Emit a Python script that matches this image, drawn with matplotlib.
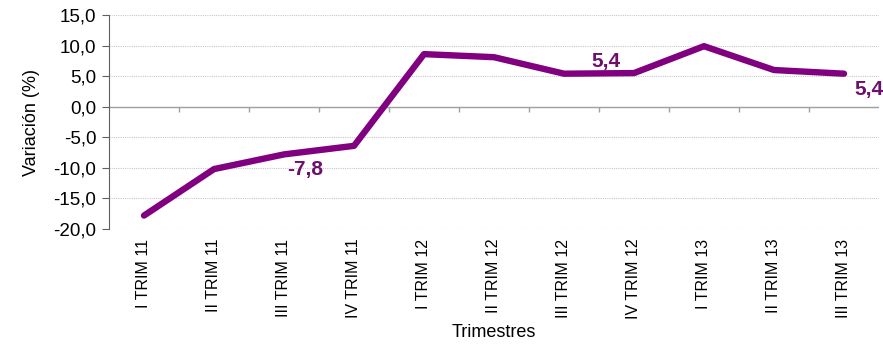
import numpy as np
import matplotlib
matplotlib.use('Agg')
import matplotlib.pyplot as plt

plt.rcParams['font.family'] = ['Liberation Sans', 'DejaVu Sans']

# data
trimestres = ['I TRIM 11', 'II TRIM 11', 'III TRIM 11', 'IV TRIM 11',
              'I TRIM 12', 'II TRIM 12', 'III TRIM 12', 'IV TRIM 12',
              'I TRIM 13', 'II TRIM 13', 'III TRIM 13']
variacion = [-17.8, -10.2, -7.8, -6.4, 8.6, 8.1, 5.4, 5.5, 9.9, 6.0, 5.4]
etiquetas = {2: '-7,8', 6: '5,4', 10: '5,4'}

yticks = np.arange(-20, 16, 5)

fig = plt.figure(figsize=(8.83, 3.45), dpi=100)
ax = fig.add_axes([109/883, 1-229/345, 770/883, 214/345])

x = np.arange(len(trimestres))
ax.plot(x, variacion, color='#800080', linewidth=4.6, solid_capstyle='round',
        solid_joinstyle='round', zorder=3)

ax.set_xlim(-0.5, len(trimestres) - 0.5)
ax.set_ylim(-20, 15)
ax.set_yticks(yticks)
ax.set_yticklabels(['{:.1f}'.format(v).replace('.', ',') for v in yticks], fontsize=13.5)
ax.yaxis.grid(True, linestyle=(0, (1, 1)), color='#c8c8c8', linewidth=0.8)
ax.set_axisbelow(True)

# eje en cero con marcas entre categorias
ax.axhline(0, color='#a0a0a0', linewidth=1.0, zorder=2)
ax.vlines(x[:-1] + 0.5, -0.8, 0, color='#a0a0a0', linewidth=1.0, zorder=2)

ax.set_xticks(x)
ax.set_xticklabels(trimestres, rotation=90, fontsize=11.5)
ax.tick_params(axis='x', length=0, pad=7)
ax.tick_params(axis='y', length=5, color='#606060', pad=4)

for s in ['top', 'right', 'bottom']:
    ax.spines[s].set_visible(False)
ax.spines['left'].set_color('#606060')

ax.set_ylabel('Variación (%)', fontsize=13, labelpad=10)
ax.set_xlabel('Trimestres', fontsize=13, labelpad=3)

# etiquetas de valores
offsets = {2: (0.3, -2.4), 6: (0.6, 2.0), 10: (0.35, -2.6)}
for i, txt in etiquetas.items():
    dx, dy = offsets[i]
    ax.text(x[i] + dx, variacion[i] + dy, txt, color='#6e0f6e', fontsize=15,
            fontweight='bold', ha='center', va='center')

fig.savefig('out.png', dpi=100)
